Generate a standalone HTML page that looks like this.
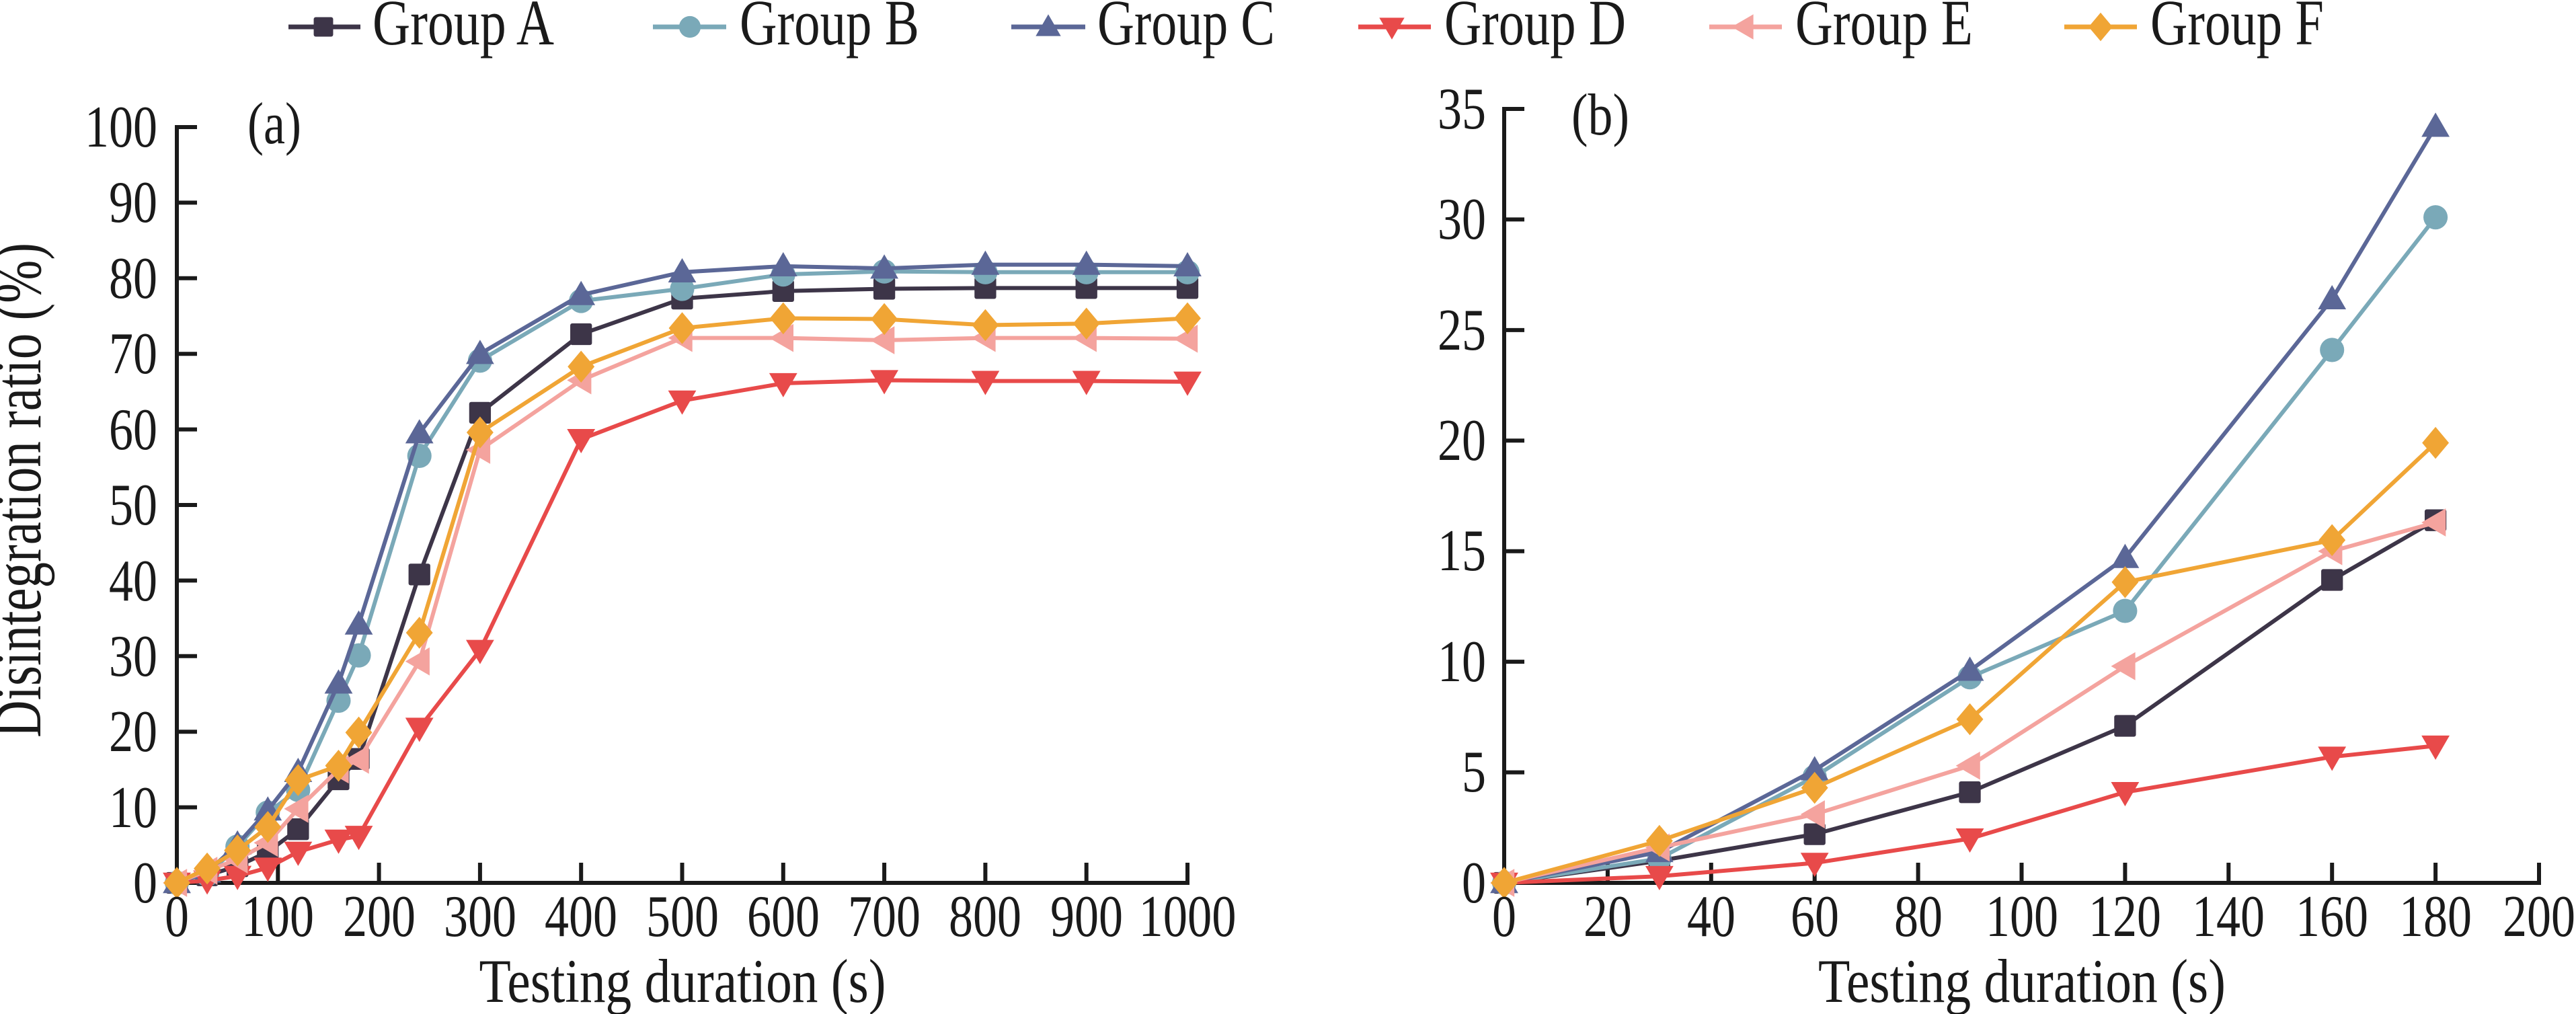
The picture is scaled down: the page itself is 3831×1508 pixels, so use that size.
<!DOCTYPE html>
<html><head><meta charset="utf-8"><style>
html,body{margin:0;padding:0;background:#fff;}
svg{display:block;}
text{font-family:"Liberation Serif",serif;fill:#1a1a1a;}
</style></head><body>
<svg id="s" width="3831" height="1508" viewBox="0 0 3831 1508" xmlns="http://www.w3.org/2000/svg">
<rect width="3831" height="1508" fill="#fff"/>
<g id="axes" stroke="#1a1a1a" stroke-width="6" fill="none"></g>
<g id="series"></g>
<g font-size="88">
<g text-anchor="end" lengthAdjust="spacingAndGlyphs">
<text x="234" y="1342" textLength="36" lengthAdjust="spacingAndGlyphs">0</text><text x="234" y="1230" textLength="72" lengthAdjust="spacingAndGlyphs">10</text><text x="234" y="1117" textLength="72" lengthAdjust="spacingAndGlyphs">20</text><text x="234" y="1005" textLength="72" lengthAdjust="spacingAndGlyphs">30</text><text x="234" y="893" textLength="72" lengthAdjust="spacingAndGlyphs">40</text><text x="234" y="780" textLength="72" lengthAdjust="spacingAndGlyphs">50</text><text x="234" y="668" textLength="72" lengthAdjust="spacingAndGlyphs">60</text><text x="234" y="555" textLength="72" lengthAdjust="spacingAndGlyphs">70</text><text x="234" y="443" textLength="72" lengthAdjust="spacingAndGlyphs">80</text><text x="234" y="330" textLength="72" lengthAdjust="spacingAndGlyphs">90</text><text x="234" y="218" textLength="108" lengthAdjust="spacingAndGlyphs">100</text>
</g>
<g text-anchor="middle">
<text x="263" y="1392" textLength="36" lengthAdjust="spacingAndGlyphs">0</text><text x="413" y="1392" textLength="108" lengthAdjust="spacingAndGlyphs">100</text><text x="564" y="1392" textLength="108" lengthAdjust="spacingAndGlyphs">200</text><text x="714" y="1392" textLength="108" lengthAdjust="spacingAndGlyphs">300</text><text x="864" y="1392" textLength="108" lengthAdjust="spacingAndGlyphs">400</text><text x="1015" y="1392" textLength="108" lengthAdjust="spacingAndGlyphs">500</text><text x="1165" y="1392" textLength="108" lengthAdjust="spacingAndGlyphs">600</text><text x="1315" y="1392" textLength="108" lengthAdjust="spacingAndGlyphs">700</text><text x="1465" y="1392" textLength="108" lengthAdjust="spacingAndGlyphs">800</text><text x="1616" y="1392" textLength="108" lengthAdjust="spacingAndGlyphs">900</text><text x="1766" y="1392" textLength="145" lengthAdjust="spacingAndGlyphs">1000</text>
</g>
<g text-anchor="end">
<text x="2210" y="1342" textLength="36" lengthAdjust="spacingAndGlyphs">0</text><text x="2210" y="1177" textLength="36" lengthAdjust="spacingAndGlyphs">5</text><text x="2210" y="1013" textLength="72" lengthAdjust="spacingAndGlyphs">10</text><text x="2210" y="848" textLength="72" lengthAdjust="spacingAndGlyphs">15</text><text x="2210" y="684" textLength="72" lengthAdjust="spacingAndGlyphs">20</text><text x="2210" y="520" textLength="72" lengthAdjust="spacingAndGlyphs">25</text><text x="2210" y="355" textLength="72" lengthAdjust="spacingAndGlyphs">30</text><text x="2210" y="191" textLength="72" lengthAdjust="spacingAndGlyphs">35</text>
</g>
<g text-anchor="middle">
<text x="2237" y="1392" textLength="36" lengthAdjust="spacingAndGlyphs">0</text><text x="2391" y="1392" textLength="72" lengthAdjust="spacingAndGlyphs">20</text><text x="2545" y="1392" textLength="72" lengthAdjust="spacingAndGlyphs">40</text><text x="2699" y="1392" textLength="72" lengthAdjust="spacingAndGlyphs">60</text><text x="2853" y="1392" textLength="72" lengthAdjust="spacingAndGlyphs">80</text><text x="3007" y="1392" textLength="108" lengthAdjust="spacingAndGlyphs">100</text><text x="3160" y="1392" textLength="108" lengthAdjust="spacingAndGlyphs">120</text><text x="3314" y="1392" textLength="108" lengthAdjust="spacingAndGlyphs">140</text><text x="3468" y="1392" textLength="108" lengthAdjust="spacingAndGlyphs">160</text><text x="3622" y="1392" textLength="108" lengthAdjust="spacingAndGlyphs">180</text><text x="3776" y="1392" textLength="108" lengthAdjust="spacingAndGlyphs">200</text>
</g>
<text x="368" y="213" textLength="80" lengthAdjust="spacingAndGlyphs">(a)</text>
<text x="2337" y="200" textLength="86" lengthAdjust="spacingAndGlyphs">(b)</text>
<text x="1015" y="1490" text-anchor="middle" font-size="92" textLength="605" lengthAdjust="spacingAndGlyphs">Testing duration (s)</text>
<text x="3007" y="1490" text-anchor="middle" font-size="92" textLength="606" lengthAdjust="spacingAndGlyphs">Testing duration (s)</text>
<text transform="translate(60,729) rotate(-90)" text-anchor="middle" font-size="100" textLength="736" lengthAdjust="spacingAndGlyphs">Disintegration ratio (%)</text>
<g font-size="96">
<text x="554" y="66" textLength="270" lengthAdjust="spacingAndGlyphs">Group A</text>
<text x="1100" y="66" textLength="267" lengthAdjust="spacingAndGlyphs">Group B</text>
<text x="1632" y="66" textLength="264" lengthAdjust="spacingAndGlyphs">Group C</text>
<text x="2148" y="66" textLength="270" lengthAdjust="spacingAndGlyphs">Group D</text>
<text x="2670" y="66" textLength="264" lengthAdjust="spacingAndGlyphs">Group E</text>
<text x="3198" y="66" textLength="258" lengthAdjust="spacingAndGlyphs">Group F</text>
</g>
</g>
</svg>
<script>
(function(){
var NS="http://www.w3.org/2000/svg";
var ax=document.getElementById('axes'), sg=document.getElementById('series');
function el(t,a,p){var e=document.createElementNS(NS,t);for(var k in a)e.setAttribute(k,a[k]);(p||sg).appendChild(e);return e;}
var A={x0:263,x1:1766,xm:1000,y0:1313,y1:189,ym:100};
var B={x0:2237,x1:3776,xm:200,y0:1313,y1:162,ym:35};
function axes(P,xs,ys){
 var d="M"+P.x0+" "+P.y1+"V"+P.y0+"H"+P.x1;
 xs.forEach(function(v){var x=P.x0+(P.x1-P.x0)*v/P.xm;d+="M"+x+" "+P.y0+"V"+(P.y0-27);});
 ys.forEach(function(v){var y=P.y0-(P.y0-P.y1)*v/P.ym;d+="M"+P.x0+" "+y+"H"+(P.x0+27);});
 el('path',{d:d,'stroke-linecap':'square'},ax);
}
var xa=[],ya=[];for(var i=1;i<=10;i++){xa.push(i*100);ya.push(i*10);}
axes(A,xa,ya);
var xb=[],yb=[];for(i=1;i<=10;i++)xb.push(i*20);for(i=1;i<=7;i++)yb.push(i*5);
axes(B,xb,yb);
var X=[0,30,60,90,120,160,180,240,300,400,500,600,700,800,900,1000];
var S=[
 {c:"#3d3548",m:"sq",d:[0,1.0,2.2,4.1,7.1,13.7,16.4,40.8,62.2,72.6,77.3,78.3,78.6,78.7,78.7,78.7]},
 {c:"#7aa9b8",m:"ci",d:[0,1.1,4.8,9.3,12.3,24.1,30.1,56.5,69.1,77.0,78.6,80.5,80.9,80.8,80.8,80.8]},
 {c:"#5b6797",m:"tu",d:[0,1.4,5.1,9.6,14.7,26.4,34.2,59.5,70.0,77.8,80.8,81.6,81.3,81.8,81.8,81.6]},
 {c:"#e84a4a",m:"td",d:[0,0.3,0.9,2.0,4.1,5.7,6.2,20.5,30.8,58.7,63.8,66.1,66.5,66.4,66.4,66.3]},
 {c:"#f4a39e",m:"tl",d:[0,1.6,3.1,5.3,9.8,15.0,16.3,29.3,57.3,66.5,72.1,72.1,71.8,72.1,72.1,72.0]},
 {c:"#f0a535",m:"di",d:[0,1.9,4.3,7.4,13.6,15.5,19.9,33.1,59.6,68.3,73.4,74.7,74.6,73.8,74.0,74.7]}
];
function marker(m,x,y,c,r){
 if(m=="sq")el('rect',{x:x-r*0.85,y:y-r*0.85,width:r*1.7,height:r*1.7,fill:c,rx:3});
 else if(m=="ci")el('circle',{cx:x,cy:y,r:r*0.95,fill:c});
 else if(m=="tu")el('polygon',{points:(x-r*1.1)+","+(y+r*0.8)+" "+(x+r*1.1)+","+(y+r*0.8)+" "+x+","+(y-r*1.1),fill:c});
 else if(m=="td")el('polygon',{points:(x-r*1.1)+","+(y-r*0.8)+" "+(x+r*1.1)+","+(y-r*0.8)+" "+x+","+(y+r*1.1),fill:c});
 else if(m=="tl")el('polygon',{points:(x+r*0.8)+","+(y-r*1.1)+" "+(x+r*0.8)+","+(y+r*1.1)+" "+(x-r*1.1)+","+y,fill:c});
 else el('polygon',{points:x+","+(y-r*1.25)+" "+(x+r*1.05)+","+y+" "+x+","+(y+r*1.25)+" "+(x-r*1.05)+","+y,fill:c});
}
function draw(P,n){
 S.forEach(function(s){
  var pts=[];
  for(var i=0;i<n;i++){pts.push([P.x0+(P.x1-P.x0)*X[i]/P.xm,P.y0-(P.y0-P.y1)*s.d[i]/P.ym]);}
  el('polyline',{points:pts.map(function(p){return p.join(',')}).join(' '),fill:'none',stroke:s.c,'stroke-width':6,'stroke-linejoin':'round'});
  pts.forEach(function(p){marker(s.m,p[0],p[1],s.c,19);});
 });
}
draw(A,16);draw(B,7);
var L=[[429,536,481],[971,1080,1026],[1504,1614,1559],[2020,2128,2070],[2542,2650,2594],[3070,3178,3124]];
L.forEach(function(l,i){
 el('line',{x1:l[0],y1:40,x2:l[1],y2:40,stroke:S[i].c,'stroke-width':7});
 marker(S[i].m,l[2],40,S[i].c,17);
});
})();
</script>
</body></html>
